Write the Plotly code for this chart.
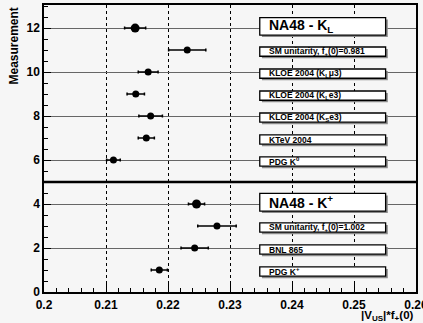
import plotly.graph_objects as go

# ---- data ----
meas_y = [12, 11, 10, 9, 8, 7, 6, 4, 3, 2, 1]
vus_f = [0.2147, 0.2231, 0.2168, 0.2148, 0.2172, 0.2165, 0.2112,
         0.2246, 0.2279, 0.2243, 0.2186]
vus_err = [0.0017, 0.0030, 0.0016, 0.0014, 0.0019, 0.0013, 0.0011,
           0.0013, 0.0031, 0.0022, 0.0013]
labels = [
    "NA48 - K<sub>L</sub>",
    "SM unitarity, f<sub>+</sub>(0)=0.981",
    "KLOE 2004 (K<sub>L</sub>μ3)",
    "KLOE 2004 (K<sub>L</sub>e3)",
    "KLOE 2004 (K<sub>S</sub>e3)",
    "KTeV 2004",
    "PDG K<sup>0</sup>",
    "NA48 - K<sup>+</sup>",
    "SM unitarity, f<sub>+</sub>(0)=1.002",
    "BNL 865",
    "PDG K<sup>+</sup>",
]
is_na48 = [True, False, False, False, False, False, False,
           True, False, False, False]
separator_y = 5
x_tickvals = [0.20, 0.21, 0.22, 0.23, 0.24, 0.25, 0.26]
x_ticktext = ["0.2", "0.21", "0.22", "0.23", "0.24", "0.25", "0.26"]
y_tickvals = [0, 2, 4, 6, 8, 10, 12]

FONT = "Liberation Sans, Arial, sans-serif"
BG = "#f6f6f6"
X_MIN, X_MAX, Y_MIN, Y_MAX = 0.2, 0.26, 0, 13.05

fig = go.Figure()

for big in (False, True):
    xs = [x for x, b in zip(vus_f, is_na48) if b == big]
    ys = [y for y, b in zip(meas_y, is_na48) if b == big]
    es = [e for e, b in zip(vus_err, is_na48) if b == big]
    fig.add_trace(go.Scatter(
        x=xs, y=ys, mode="markers",
        marker=dict(color="black", size=9 if big else 7, symbol="circle"),
        error_x=dict(type="data", array=es, color="black", thickness=1.5, width=1.5),
        showlegend=False, hoverinfo="skip",
    ))

shapes = []
annotations = []

# thick separator line
shapes.append(dict(type="line", xref="paper", yref="y", x0=0, x1=1,
                   y0=separator_y, y1=separator_y,
                   line=dict(color="black", width=2.5), layer="below"))

# label boxes
box_x0, box_x1 = 0.2348, 0.2551
sh_dx, sh_dy = 0.00035, 0.09
for y, lab, big in zip(meas_y, labels, is_na48):
    if big:
        yc, hh, fs = y + 0.08, 0.40, 14
    else:
        yc, hh, fs = y - 0.07, 0.21, 8.5
    shapes.append(dict(type="rect", xref="x", yref="y",
                       x0=box_x0 + sh_dx, x1=box_x1 + sh_dx,
                       y0=yc - hh - sh_dy, y1=yc + hh - sh_dy,
                       fillcolor="#8a8a8a", line=dict(width=0), layer="above"))
    shapes.append(dict(type="rect", xref="x", yref="y",
                       x0=box_x0, x1=box_x1, y0=yc - hh, y1=yc + hh,
                       fillcolor="white", line=dict(color="black", width=1.3),
                       layer="above"))
    annotations.append(dict(x=box_x0 + 0.0011, y=yc, xref="x", yref="y",
                            text="<b>" + lab + "</b>", showarrow=False,
                            xanchor="left", yanchor="middle",
                            font=dict(family=FONT, size=fs, color="black")))

annotations.append(dict(x=1, y=0, xref="paper", yref="paper",
                        text="<b>|V<sub>US</sub>|*f<sub>+</sub>(0)</b>",
                        showarrow=False, xanchor="right", yanchor="top",
                        yshift=-15,
                        font=dict(family=FONT, size=11.5, color="black")))
annotations.append(dict(x=0, y=1, xref="paper", yref="paper",
                        text="<b>Measurement</b>", textangle=-90,
                        showarrow=False, xanchor="center", yanchor="top",
                        xshift=-31, yshift=-1,
                        font=dict(family=FONT, size=12, color="black")))

axis_common = dict(
    showline=True, linecolor="black", linewidth=1.5, mirror=True,
    ticks="inside", tickcolor="black", tickwidth=1.2,
    showgrid=True, zeroline=False, automargin=False,
    ticklabeloverflow="allow",
    tickfont=dict(family=FONT, size=12, color="black", weight="bold"),
)

fig.update_layout(
    width=423, height=323,
    margin=dict(l=44, r=7, t=5, b=31),
    paper_bgcolor=BG, plot_bgcolor=BG,
    xaxis=dict(range=[X_MIN, X_MAX + 1e-7], tickvals=x_tickvals,
               ticktext=x_ticktext, ticklen=8, ticklabelstandoff=1,
               gridcolor="black", gridwidth=1.3, griddash="dot",
               minor=dict(dtick=0.002, tick0=0.2, ticks="inside", ticklen=4,
                          tickcolor="black", showgrid=False),
               **axis_common),
    yaxis=dict(range=[Y_MIN, Y_MAX], tickvals=y_tickvals, ticklen=7,
               gridcolor="#666666", gridwidth=1.3,
               minor=dict(dtick=0.5, tick0=0, ticks="inside", ticklen=4,
                          tickcolor="black", showgrid=False),
               **axis_common),
    shapes=shapes,
    annotations=annotations,
)

fig.write_html("out.html", config={"displayModeBar": False},
               post_script="document.body.style.margin='0';document.body.style.overflow='hidden';")
